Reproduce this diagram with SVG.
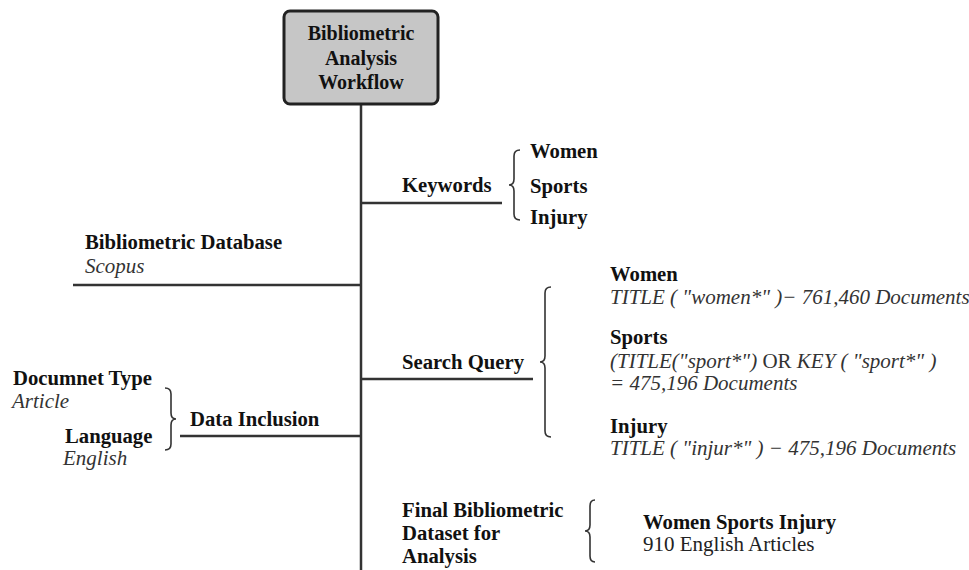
<svg xmlns="http://www.w3.org/2000/svg" width="969" height="570" viewBox="0 0 969 570">
<style>
text{font-family:"Liberation Serif","Times New Roman",serif;fill:#111}
.b{font-weight:bold;font-size:20.7px}
.i{font-style:italic;font-size:21px;fill:#333}
.r{font-size:21px;fill:#222}
.ln{stroke:#333;stroke-width:2.5;fill:none}
.br{stroke:#333;stroke-width:1.6;fill:none}
</style>
<rect width="969" height="570" fill="#fff"/>
<g id="connectors">
<line class="ln" x1="361" y1="104" x2="361" y2="570"/>
<line class="ln" x1="361" y1="203" x2="502" y2="203"/>
<line class="ln" x1="73" y1="285" x2="361" y2="285"/>
<line class="ln" x1="361" y1="379" x2="533" y2="379"/>
<line class="ln" x1="180" y1="436" x2="361" y2="436"/>
</g>
<g id="root">
<rect x="284" y="11" width="154" height="93" rx="6" fill="#c6c6c6" stroke="#222" stroke-width="3"/>
<text class="b" x="361" y="40" text-anchor="middle" style="font-size:20px">Bibliometric</text>
<text class="b" x="361" y="65" text-anchor="middle" style="font-size:20px">Analysis</text>
<text class="b" x="361" y="89" text-anchor="middle" style="font-size:20px">Workflow</text>
</g>
<g id="keywords">
<text class="b" x="402" y="192">Keywords</text>
<path class="br" d="M520,150 Q514,150 514,156 L514,179 Q514,185 509,185 Q514,185 514,191 L514,214 Q514,220 520,220"/>
<text class="b" x="530" y="158">Women</text>
<text class="b" x="530" y="193">Sports</text>
<text class="b" x="530" y="224">Injury</text>
</g>
<g id="database">
<text class="b" x="85" y="249">Bibliometric Database</text>
<text class="i" x="85" y="273">Scopus</text>
</g>
<g id="search-query">
<text class="b" x="402" y="369">Search Query</text>
<path class="br" d="M551,287 Q545,287 545,293 L545,356 Q545,362 540,362 Q545,362 545,368 L545,431 Q545,437 551,437"/>
<text class="b" x="610" y="281">Women</text>
<text class="i" x="610" y="304">TITLE ( "women*" )− 761,460 Documents</text>
<text class="b" x="610" y="344">Sports</text>
<text class="i" x="610" y="368">(TITLE("sport*") <tspan font-style="normal">OR</tspan> KEY ( "sport*" )</text>
<text class="i" x="610" y="390">= 475,196 Documents</text>
<text class="b" x="610" y="433">Injury</text>
<text class="i" x="610" y="455">TITLE ( "injur*" ) − 475,196 Documents</text>
</g>
<g id="data-inclusion">
<text class="b" x="13" y="385">Documnet Type</text>
<text class="i" x="12" y="408">Article</text>
<text class="b" x="65" y="443">Language</text>
<text class="i" x="63" y="465">English</text>
<path class="br" d="M165,388 Q171,388 171,394 L171,413 Q171,419 176,419 Q171,419 171,425 L171,444 Q171,450 165,450"/>
<text class="b" x="190" y="426">Data Inclusion</text>
</g>
<g id="final-dataset">
<text class="b" x="402" y="517">Final Bibliometric</text>
<text class="b" x="402" y="540">Dataset for</text>
<text class="b" x="402" y="563">Analysis</text>
<path class="br" d="M595,500 Q590,500 590,506 L590,525 Q590,531 585,531 Q590,531 590,537 L590,556 Q590,562 595,562"/>
<text class="b" x="643" y="529">Women Sports Injury</text>
<text class="r" x="643" y="551">910 English Articles</text>
</g>
</svg>
